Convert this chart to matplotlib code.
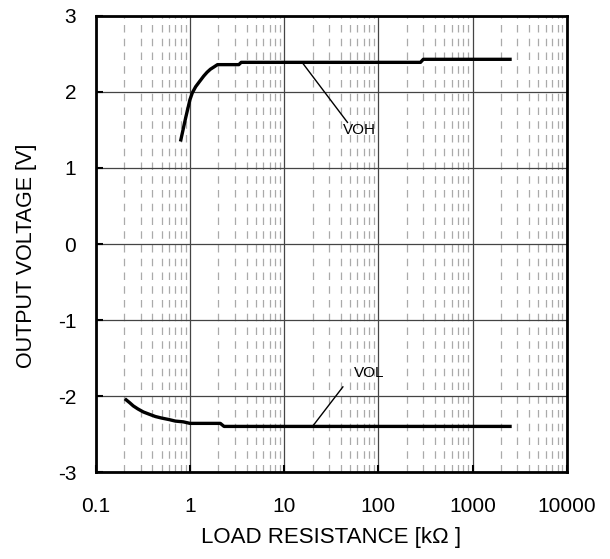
import numpy as np
import matplotlib
matplotlib.use("Agg")
import matplotlib.pyplot as plt
from matplotlib.ticker import LogLocator, FixedLocator, NullFormatter

plt.rcParams['font.family'] = ['Liberation Sans', 'DejaVu Sans']
plt.rcParams['axes.unicode_minus'] = False

# VOH curve (kOhm, V)
voh_r = [0.8, 0.9, 1.0, 1.06, 1.15, 1.25, 1.4, 1.52, 1.65, 1.8, 1.96, 3.3, 3.5, 280, 300, 2500]
voh_v = [1.37, 1.66, 1.9, 1.99, 2.07, 2.13, 2.21, 2.26, 2.30, 2.33, 2.36, 2.36, 2.39, 2.39, 2.43, 2.43]

# VOL curve
vol_r = [0.21, 0.23, 0.25, 0.28, 0.32, 0.37, 0.43, 0.5, 0.6, 0.7, 0.85, 1.0, 2.1, 2.3, 2500]
vol_v = [-2.05, -2.09, -2.13, -2.17, -2.21, -2.24, -2.27, -2.29, -2.31, -2.33, -2.34, -2.36, -2.36, -2.40, -2.40]

x_ticks = [0.1, 1, 10, 100, 1000, 10000]
x_labels = ['0.1', '1', '10', '100', '1000', '10000']
y_ticks = [-3, -2, -1, 0, 1, 2, 3]

fig = plt.figure(figsize=(6.1, 5.59), dpi=100)
ax = fig.add_axes([0.157, 0.1556, 0.7721, 0.8158])

ax.set_xscale('log')
ax.set_xlim(0.1, 10000)
ax.set_ylim(-3, 3)

ax.xaxis.set_major_locator(FixedLocator(x_ticks))
ax.set_xticklabels(x_labels)
ax.xaxis.set_minor_locator(LogLocator(base=10, subs=np.arange(2, 10)))
ax.xaxis.set_minor_formatter(NullFormatter())
ax.set_yticks(y_ticks)

ax.grid(True, which='major', color='#444444', linewidth=0.9, linestyle='-')
ax.grid(True, which='minor', axis='x', color='#aaaaaa', linewidth=0.9,
        linestyle=(0, (6, 5)))

ax.tick_params(which='major', direction='in', length=5, width=1.5, labelsize=15)
ax.tick_params(which='minor', length=0)
ax.tick_params(axis='x', pad=18)
ax.tick_params(axis='y', pad=14)
for s in ax.spines.values():
    s.set_linewidth(2)

ax.plot(voh_r, voh_v, color='black', linewidth=2.4)
ax.plot(vol_r, vol_v, color='black', linewidth=2.4)

ax.plot([15.5, 47], [2.39, 1.6], color='black', linewidth=1)
ax.text(63, 1.5, 'VOH', ha='center', va='center', fontsize=11)
ax.plot([20, 42], [-2.40, -1.88], color='black', linewidth=1)
ax.text(79, -1.70, 'VOL', ha='center', va='center', fontsize=11)

ax.set_xlabel('LOAD RESISTANCE [kΩ ]', fontsize=16)
ax.set_ylabel('OUTPUT VOLTAGE [V]', fontsize=15.5)
ax.xaxis.set_label_coords(0.5, -0.12)
ax.yaxis.set_label_coords(-0.125, 0.474)

fig.savefig('out.png', dpi=100)
